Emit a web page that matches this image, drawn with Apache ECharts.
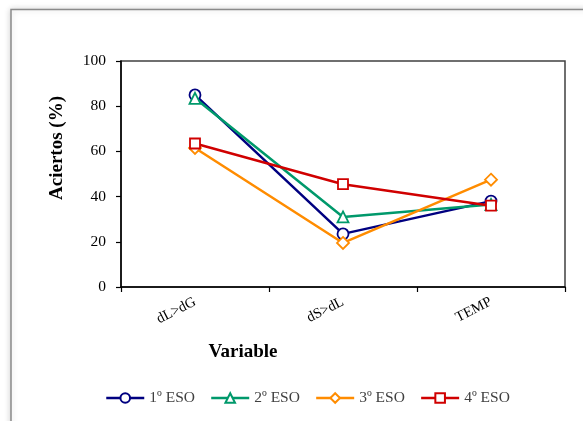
<!DOCTYPE html>
<html>
<head>
<meta charset="utf-8">
<script src="https://cdn.jsdelivr.net/npm/echarts@6/dist/echarts.min.js"></script>
<style>
html,body{margin:0;padding:0;background:#fff;}
#c{width:583px;height:421px;}
</style>
</head>
<body>
<div id="c"></div>
<script>
var categories = ['dL>dG', 'dS>dL', 'TEMP'];
var seriesNames = ['1º ESO', '2º ESO', '3º ESO', '4º ESO'];
var eso1 = [85, 23.5, 38];
var eso2 = [83.5, 31, 36.5];
var eso3 = [61.5, 19.5, 47.5];
var eso4 = [63.5, 45.5, 36];
var yTicks = [0, 20, 40, 60, 80, 100];
var yTitle = 'Aciertos (%)';
var xTitle = 'Variable';

var colors = ['#000080', '#00996b', '#ff8c00', '#d00000'];
var symbols = ['circle', 'triangle', 'diamond', 'rect'];
var datas = [eso1, eso2, eso3, eso4];
var FONT = '"Liberation Serif", "Times New Roman", serif';

var chart = echarts.init(document.getElementById('c'), null, {renderer: 'canvas'});

var series = datas.map(function (d, i) {
  return {
    name: seriesNames[i],
    type: 'line',
    data: d,
    symbol: symbols[i],
    symbolSize: symbols[i] === 'diamond' ? 12 : (symbols[i] === 'rect' ? 10 : 11),
    showSymbol: true,
    lineStyle: {color: colors[i], width: 2.5},
    itemStyle: {color: '#fff', borderColor: colors[i], borderWidth: 1.8},
    emphasis: {disabled: true},
    z: 10 + i
  };
});

chart.setOption({
  animation: false,
  backgroundColor: '#fff',
  color: colors,
  grid: {left: 121, top: 61, right: 18, bottom: 134, show: true,
         borderColor: '#404040', borderWidth: 1.5, backgroundColor: 'transparent'},
  xAxis: {
    type: 'category',
    data: categories,
    boundaryGap: true,
    axisLine: {lineStyle: {color: '#000', width: 1.5}},
    axisTick: {show: true, length: 5, lineStyle: {color: '#000', width: 1.2}},
    axisLabel: {rotate: 27, margin: 14, color: '#000', fontFamily: FONT, fontSize: 14.5},
    splitLine: {show: false}
  },
  yAxis: {
    type: 'value',
    min: yTicks[0],
    max: yTicks[yTicks.length - 1],
    interval: yTicks[1] - yTicks[0],
    axisLine: {show: true, lineStyle: {color: '#000', width: 1.5}},
    axisTick: {show: true, length: 5, lineStyle: {color: '#000', width: 1.2}},
    axisLabel: {margin: 15, color: '#000', fontFamily: FONT, fontSize: 15.5},
    splitLine: {show: false}
  },
  legend: {
    data: seriesNames,
    left: 100,
    top: 385,
    itemWidth: 38,
    itemHeight: 12,
    itemGap: 15,
    lineStyle: {width: 2.5},
    textStyle: {color: '#404040', fontFamily: FONT, fontSize: 15.5}
  },
  graphic: [
    {type: 'rect', z: -10, silent: true,
     shape: {x: 11, y: 9.5, width: 620, height: 460},
     style: {fill: '#fff', stroke: '#8a8a8a', lineWidth: 1.5,
             shadowBlur: 6, shadowColor: 'rgba(0,0,0,0.18)'}},
    {type: 'text', x: 57, y: 148, rotation: Math.PI / 2, silent: true,
     style: {text: yTitle, fill: '#000', font: 'bold 19px ' + FONT,
             align: 'center', verticalAlign: 'middle'}},
    {type: 'text', x: 243, y: 352, silent: true,
     style: {text: xTitle, fill: '#000', font: 'bold 19px ' + FONT,
             align: 'center', verticalAlign: 'middle'}}
  ],
  series: series
});
</script>
</body>
</html>
